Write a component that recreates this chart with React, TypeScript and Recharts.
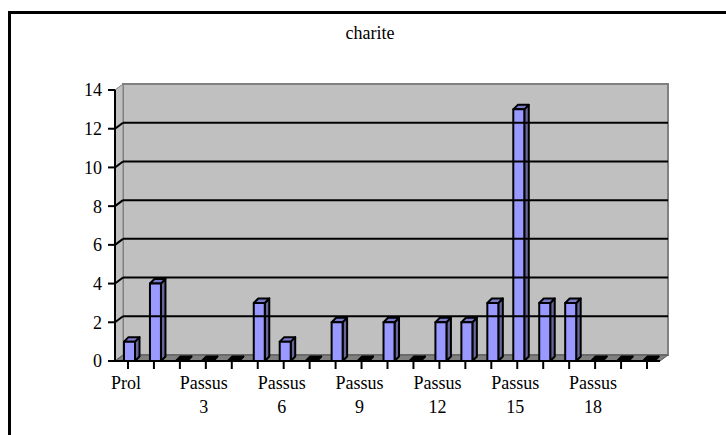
import { Bar, BarChart, ReferenceArea, ReferenceLine, XAxis, YAxis } from "recharts"

const categories = [
  "Prol", "Passus 1", "Passus 2", "Passus 3", "Passus 4", "Passus 5", "Passus 6",
  "Passus 7", "Passus 8", "Passus 9", "Passus 10", "Passus 11", "Passus 12", "Passus 13",
  "Passus 14", "Passus 15", "Passus 16", "Passus 17", "Passus 18", "Passus 19", "Passus 20",
]
const values = [1, 4, 0, 0, 0, 3, 1, 0, 2, 0, 2, 0, 2, 2, 3, 13, 3, 3, 0, 0, 0]
const yTicks = [0, 2, 4, 6, 8, 10, 12, 14]
const gridValues = [2, 4, 6, 8, 10, 12]

const data = categories.map((name, i) => ({ name, value: values[i] }))

const FONT = '"Liberation Serif", "Times New Roman", serif'
const DX = 8
const DY = 6

// back wall, left wall and floor of the 3D box
function Walls({ x, y, width, height }: any) {
  const bottom = y + height
  const right = x + width
  return (
    <g>
      <polygon points={`${x + DX},${y - DY} ${right + DX},${y - DY} ${right + DX},${bottom - DY} ${x + DX},${bottom - DY}`} fill="#c0c0c0" stroke="#808080" strokeWidth={2} />
      <polygon points={`${x},${y} ${x + DX},${y - DY} ${x + DX},${bottom - DY} ${x},${bottom}`} fill="#c0c0c0" stroke="#808080" strokeWidth={1} />
      <polygon points={`${x},${bottom} ${x + DX},${bottom - DY} ${right + DX},${bottom - DY} ${right},${bottom}`} fill="#808080" stroke="#555" strokeWidth={1} />
    </g>
  )
}

function GridLine({ x1, y1, x2, y2 }: any) {
  return (
    <g stroke="#000" strokeWidth={2}>
      <line x1={x1 + DX} y1={y1 - DY} x2={x2 + DX} y2={y2 - DY} />
      <line x1={x1} y1={y1} x2={x1 + DX} y2={y1 - DY} />
    </g>
  )
}

function renderLine(props: any) {
  const { x1, y1, x2, y2 } = props
  return <GridLine x1={x1} y1={y1} x2={x2} y2={y2} />
}

function Bar3D({ x, y, width, height }: any) {
  const d = 4.5
  const l = x + 2
  const r = l + width
  const b = y + height
  // empty bars collapse to a flat black sliver on the floor
  const topFill = height > 0 ? "#7a7acc" : "#000"
  return (
    <g stroke="#000" strokeWidth={2} strokeLinejoin="round">
      <polygon points={`${r},${y} ${r + d},${y - d} ${r + d},${b - d} ${r},${b}`} fill="#666699" />
      <polygon points={`${l},${y} ${l + d},${y - d} ${r + d},${y - d} ${r},${y}`} fill={topFill} />
      <rect x={l} y={y} width={width} height={height} fill="#9999ff" />
    </g>
  )
}

function XTick({ x, payload, index }: any) {
  if (index % 3 !== 0) return null
  const parts = String(payload.value).split(" ")
  return (
    <text textAnchor="middle" fontFamily={FONT} fontSize={18} fill="#000">
      {parts.map((p, i) => (
        <tspan key={i} x={x - 2} y={389 + i * 24}>{p}</tspan>
      ))}
    </text>
  )
}

export default function App() {
  return (
    <div style={{ position: "absolute", left: 0, top: 0, width: 726, height: 435, overflow: "hidden", background: "#fff" }}>
      <div style={{ position: "absolute", left: 8, top: 11, right: 0, bottom: 0, borderTop: "3px solid #000", borderLeft: "3px solid #000" }} />
      <div style={{ position: "absolute", left: 0, width: 740, top: 23, textAlign: "center", fontFamily: FONT, fontSize: 18, lineHeight: "21px", color: "#000" }}>charite</div>
      <BarChart
        width={726}
        height={435}
        data={data}
        barSize={11}
        margin={{ top: 90, right: 66, bottom: 0, left: 75 }}
        style={{ position: "absolute", left: 0, top: 0 }}
      >
        <ReferenceArea y1={0} y2={14} shape={<Walls />} stroke="none" />
        {gridValues.map((v) => (
          <ReferenceLine key={v} y={v} shape={renderLine} />
        ))}
        <XAxis
          dataKey="name"
          interval={0}
          tick={<XTick />}
          tickSize={8}
          axisLine={{ stroke: "#000", strokeWidth: 2 }}
          tickLine={{ stroke: "#000", strokeWidth: 2 }}
          height={74}
        />
        <YAxis
          domain={[0, 14]}
          ticks={yTicks}
          interval={0}
          tickSize={7}
          tickMargin={6}
          width={40}
          axisLine={{ stroke: "#000", strokeWidth: 2 }}
          tickLine={{ stroke: "#000", strokeWidth: 2 }}
          tick={{ fill: "#000", fontSize: 18, fontFamily: FONT }}
        />
        <Bar dataKey="value" isAnimationActive={false} shape={<Bar3D />} />
      </BarChart>
    </div>
  )
}
